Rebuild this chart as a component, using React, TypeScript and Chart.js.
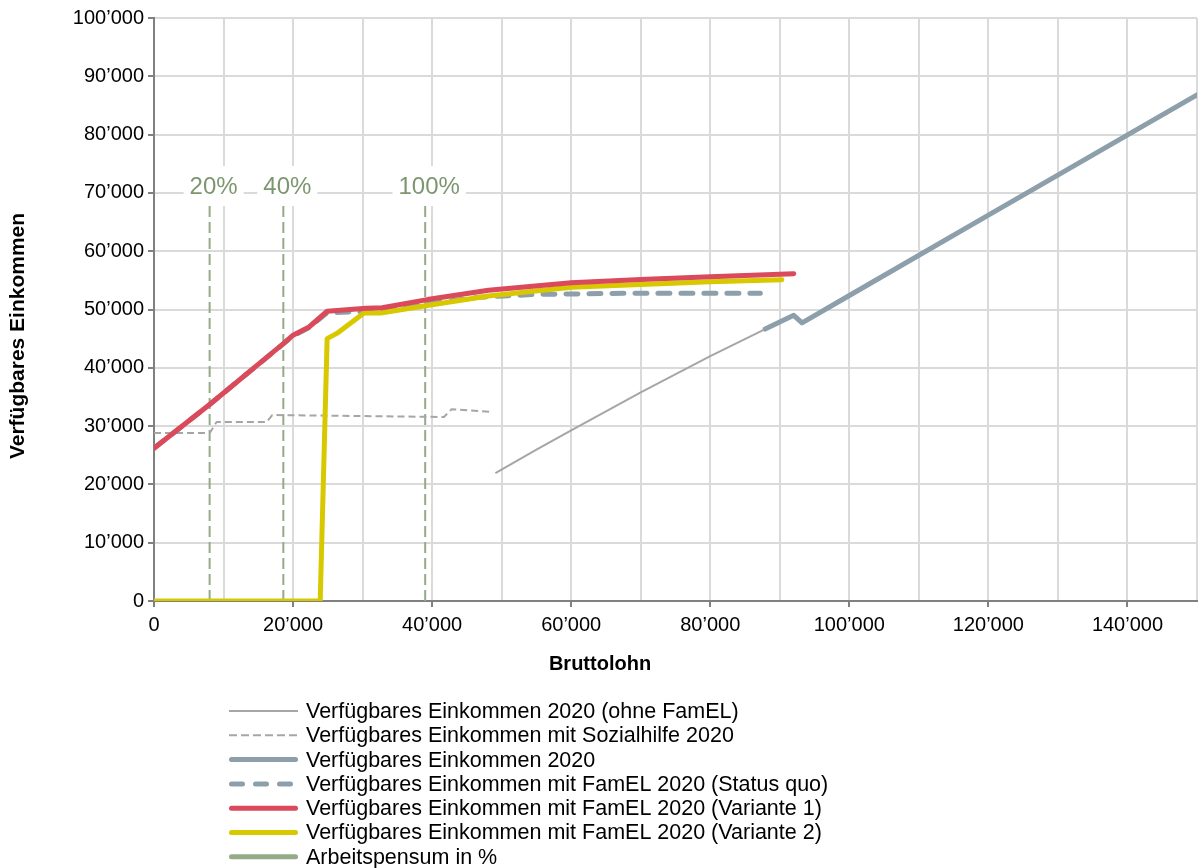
import React, { useEffect, useRef } from 'react';
import { Chart, registerables } from 'chart.js';

Chart.register(...registerables);

// ---------- data ----------
const seriesLabels = [
  'Verfügbares Einkommen 2020 (ohne FamEL)',
  'Verfügbares Einkommen mit Sozialhilfe 2020',
  'Verfügbares Einkommen 2020',
  'Verfügbares Einkommen mit FamEL 2020 (Status quo)',
  'Verfügbares Einkommen mit FamEL 2020 (Variante 1)',
  'Verfügbares Einkommen mit FamEL 2020 (Variante 2)',
  'Arbeitspensum in %',
];

const xAxisTitle = 'Bruttolohn';
const yAxisTitle = 'Verfügbares Einkommen';

const ohneX = [49100, 55000, 60000, 70000, 80000, 87900];
const ohneY = [21950, 25950, 29250, 35800, 42000, 46650];

const sozialX = [0, 8000, 9000, 16200, 17000, 41700, 42800, 48300];
const sozialY = [28800, 28800, 30700, 30700, 31900, 31560, 32900, 32450];

const steelX = [87900, 92000, 93200, 100000, 120000, 150000];
const steelY = [46650, 49000, 47700, 52400, 66200, 86800];

const quoX = [0, 8000, 18600, 20000, 22300, 24900, 30200, 32800, 39500, 46700, 55000, 70000, 87200];
const quoY = [26200, 33700, 44100, 45500, 46900, 49450, 49650, 50050, 51000, 52100, 52600, 52800, 52800];

const var1X = [0, 8000, 18600, 20000, 22300, 24900, 30500, 32800, 39300, 48100, 60000, 70000, 80000, 92000];
const var1Y = [26200, 33700, 44150, 45600, 47000, 49700, 50200, 50300, 51700, 53300, 54600, 55150, 55600, 56150];

const var2X = [0, 23900, 24900, 26300, 30200, 32600, 39300, 48100, 60000, 70000, 80000, 90300];
const var2Y = [0, 0, 45000, 45900, 49400, 49400, 50700, 52300, 53800, 54300, 54750, 55100];

const pensumX = [8000, 18600, 39000];
const pensumLabels = ['20%', '40%', '100%'];
const pensumTop = 68000;
const pensumLabelY = 71200;

const xTicksMax = 150000;
const yTicksMax = 100000;

// ---------- helpers ----------
const pts = (xs: number[], ys: number[]) => xs.map((x, i) => ({ x, y: ys[i] }));
const fmt = (v: number) => String(Math.round(v)).replace(/\B(?=(\d{3})+(?!\d))/g, '\u2019');

const FONT = 'Arial, "Liberation Sans", sans-serif';
const GREEN = '#93AC87';
const GREEN_TEXT = '#7D9670';

const pensumData: { x: number; y: number | null }[] = [];
pensumX.forEach((x) => {
  pensumData.push({ x, y: 0 }, { x, y: pensumTop }, { x, y: null });
});

const extrasPlugin = {
  id: 'extras',
  afterDatasetsDraw(chart: any) {
    const { ctx, scales } = chart;
    const xs = scales.x;
    const ys = scales.y;
    ctx.save();
    ctx.font = `24px ${FONT}`;
    ctx.textAlign = 'center';
    ctx.textBaseline = 'middle';
    const cy = ys.getPixelForValue(pensumLabelY);
    pensumX.forEach((x, i) => {
      const cx = xs.getPixelForValue(x) + 4;
      const w = ctx.measureText(pensumLabels[i]).width;
      ctx.fillStyle = '#ffffff';
      ctx.fillRect(cx - w / 2 - 6, cy - 20, w + 12, 40);
      ctx.fillStyle = GREEN_TEXT;
      ctx.fillText(pensumLabels[i], cx, cy + 1);
    });
    ctx.restore();
  },
  afterDraw(chart: any) {
    const { ctx } = chart;
    ctx.save();
    // y-axis title
    ctx.translate(18, 336);
    ctx.rotate(-Math.PI / 2);
    ctx.font = `bold 21px ${FONT}`;
    ctx.fillStyle = '#000';
    ctx.textAlign = 'center';
    ctx.textBaseline = 'middle';
    ctx.fillText(yAxisTitle, 0, 0);
    ctx.restore();

    // x-axis title
    ctx.save();
    ctx.font = `bold 20px ${FONT}`;
    ctx.fillStyle = '#000';
    ctx.textAlign = 'center';
    ctx.textBaseline = 'middle';
    ctx.fillText(xAxisTitle, 600, 664);
    ctx.restore();

    // legend
    ctx.save();
    const x0 = 229;
    const lineLen = 69;
    const tx = 306;
    const y0 = 711;
    const dy = 24.3;
    chart.data.datasets.forEach((ds: any, i: number) => {
      const y = y0 + i * dy;
      ctx.beginPath();
      ctx.strokeStyle = ds.borderColor;
      ctx.lineWidth = ds.legendWidth ?? ds.borderWidth;
      ctx.setLineDash(ds.legendDash ?? []);
      ctx.lineCap = ds.legendCap ?? 'butt';
      const inset = ctx.lineCap === 'round' ? ctx.lineWidth / 2 : 0;
      ctx.moveTo(x0 + inset, y);
      ctx.lineTo(x0 + lineLen - inset, y);
      ctx.stroke();
      ctx.setLineDash([]);
      ctx.font = `21.5px ${FONT}`;
      ctx.fillStyle = '#000';
      ctx.textAlign = 'left';
      ctx.textBaseline = 'middle';
      ctx.fillText(ds.label, tx, y + 1);
    });
    ctx.restore();
  },
};

export default function App() {
  const ref = useRef<HTMLCanvasElement | null>(null);

  useEffect(() => {
    document.body.style.margin = '0';
    const canvas = ref.current;
    if (!canvas) return;
    Chart.defaults.font.family = FONT;
    Chart.defaults.font.size = 20;
    Chart.defaults.color = '#000';

    const chart = new Chart(canvas, {
      type: 'line',
      data: {
        datasets: [
          {
            label: seriesLabels[0],
            data: pts(ohneX, ohneY),
            borderColor: '#A6A6A6',
            borderWidth: 2,
            order: 5,
          },
          {
            label: seriesLabels[1],
            data: pts(sozialX, sozialY),
            borderColor: '#A6A6A6',
            borderWidth: 2,
            borderDash: [7, 4],
            legendDash: [8, 4],
            order: 6,
          },
          {
            label: seriesLabels[2],
            data: pts(steelX, steelY),
            borderColor: '#8C9FAA',
            borderWidth: 5,
            borderCapStyle: 'round',
            legendCap: 'round',
            order: 3,
          },
          {
            label: seriesLabels[3],
            data: pts(quoX, quoY),
            borderColor: '#8C9FAA',
            borderWidth: 5,
            borderDash: [12, 11],
            borderCapStyle: 'round',
            legendDash: [11, 13],
            legendCap: 'round',
            order: 4,
          },
          {
            label: seriesLabels[4],
            data: pts(var1X, var1Y),
            borderColor: '#DA4A5A',
            borderWidth: 5,
            borderCapStyle: 'round',
            legendCap: 'round',
            order: 1,
          },
          {
            label: seriesLabels[5],
            data: pts(var2X, var2Y),
            borderColor: '#D8C800',
            borderWidth: 5,
            borderCapStyle: 'round',
            legendCap: 'round',
            order: 2,
          },
          {
            label: seriesLabels[6],
            data: pensumData,
            borderColor: GREEN,
            borderWidth: 2,
            borderDash: [11, 5],
            legendWidth: 5,
            legendDash: [],
            legendCap: 'round',
            spanGaps: false,
            order: 7,
          },
        ] as any,
      },
      options: {
        animation: false,
        responsive: false,
        devicePixelRatio: 1,
        elements: {
          point: { radius: 0, hoverRadius: 0 },
          line: { tension: 0, borderJoinStyle: 'round' },
        },
        layout: { padding: { left: 0, right: 1, top: 18, bottom: 177 } },
        plugins: {
          legend: { display: false },
          tooltip: { enabled: false },
        },
        scales: {
          x: {
            type: 'linear',
            min: 0,
            max: xTicksMax,
            afterFit: (s: any) => {
              s.height = 90;
            },
            ticks: {
              stepSize: 10000,
              autoSkip: false,
              maxRotation: 0,
              minRotation: 0,
              padding: 6,
              color: '#000',
              font: { size: 20 },
              callback: (v: any) => (Number(v) % 20000 === 0 ? fmt(Number(v)) : ''),
            },
            grid: {
              color: '#DADADA',
              lineWidth: 2,
              tickLength: 6,
              tickWidth: 2,
              tickColor: (c: any) =>
                c.tick && c.tick.value % 20000 === 0 ? '#808080' : 'rgba(0,0,0,0)',
            },
            border: { display: true, color: '#808080', width: 2 },
            title: { display: false },
          },
          y: {
            type: 'linear',
            min: 0,
            max: yTicksMax,
            afterFit: (s: any) => {
              s.width = 154;
            },
            ticks: {
              stepSize: 10000,
              padding: 4,
              color: '#000',
              font: { size: 20 },
              callback: (v: any) => fmt(Number(v)),
            },
            grid: {
              color: '#DADADA',
              lineWidth: 2,
              tickLength: 6,
              tickWidth: 2,
              tickColor: '#808080',
            },
            border: { display: true, color: '#808080', width: 2 },
          },
        },
      },
      plugins: [extrasPlugin],
    } as any);

    return () => chart.destroy();
  }, []);

  return (
    <div style={{ width: 1203, height: 868 }}>
      <canvas ref={ref} width={1203} height={868} style={{ display: 'block' }} />
    </div>
  );
}
